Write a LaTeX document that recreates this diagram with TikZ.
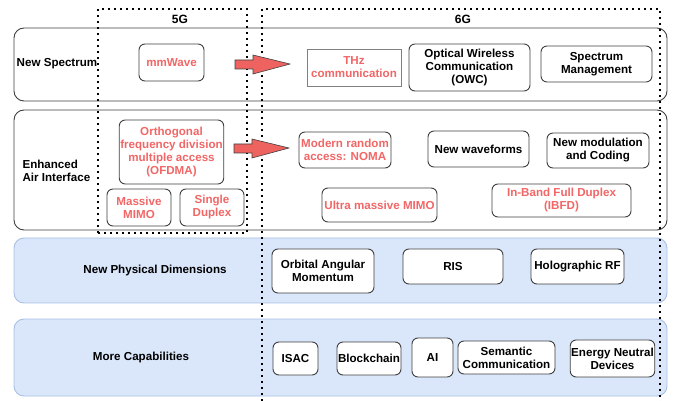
\documentclass[tikz,border=0pt]{standalone}
\usepackage{fontspec}
\setmainfont{Liberation Sans}
\definecolor{redtxt}{HTML}{F26666}
\definecolor{arrowred}{HTML}{EE6360}
\definecolor{boxgray}{HTML}{404040}
\definecolor{bluefill}{HTML}{DAE6FA}
\definecolor{blueline}{HTML}{A9C0E6}
\tikzset{
  row/.style={draw=boxgray, line width=0.9pt, rounded corners=10pt, fill=white},
  bluerow/.style={draw=blueline, line width=0.9pt, rounded corners=10pt, fill=bluefill},
  item/.style={draw=boxgray, line width=0.9pt, rounded corners=6pt, fill=white, align=center, inner sep=1pt},
  reditem/.style={item, text=redtxt},
  dotbox/.style={line width=1.7pt, dash pattern=on 1.7pt off 4.3pt, black},
  lbl/.style={align=center},
  bigarrow/.style={draw=boxgray, line width=0.6pt, fill=arrowred, line join=miter},
}
\newcommand{\blockarrow}[1]{%
  \draw[bigarrow] ($(#1)+(0,-4)$) -- ++(18,0) -- ++(0,-5) -- ++(37,9) -- ++(-37,10) -- ++(0,-5) -- ++(-18,0) -- cycle;}
\usetikzlibrary{calc}
\begin{document}
\begin{tikzpicture}[x=1pt, y=-1pt, every node/.append style={font=\fontsize{11.6}{13}\selectfont\bfseries}]
\useasboundingbox (0,0) rectangle (673,401);
% rows
\draw[row] (14,28) rectangle (667,101);
\draw[row] (14,110) rectangle (667,230);
\draw[bluerow] (14,238) rectangle (667,303);
\draw[bluerow] (14,319) rectangle (667,396);
% row labels
\node[lbl] (lspec) at (57,64) {New Spectrum};
\node[lbl, anchor=west, align=left] (lair) at (19,170.5) {Enhanced\\Air Interface};
\node[lbl] (lphy) at (155,271) {New Physical Dimensions};
\node[lbl] (lcap) at (141,358) {More Capabilities};
% dotted generation boxes
\draw[dotbox] (98,233) -- (98,9) -- (247,9) -- (247,233) -- cycle;
\draw[dotbox] (262,401) -- (262,9) -- (660,9) -- (660,401);
\node[lbl, font=\fontsize{12}{13}\selectfont\bfseries] (g5) at (180,19) {5G};
\node[lbl, font=\fontsize{12}{13}\selectfont\bfseries] (g6) at (463,19) {6G};
% row 1
\node[reditem, minimum width=65pt, minimum height=37pt] (mmw) at (171.5,62.5) {mmWave};
\node[reditem, rounded corners=0pt, draw=gray, minimum width=94pt, minimum height=37pt] (thz) at (354,67.5) {THz\\communication};
\node[item, minimum width=121pt, minimum height=47pt] (owc) at (469.5,67.5) {Optical Wireless\\Communication\\(OWC)};
\node[item, minimum width=111pt, minimum height=36pt] (sm) at (596.5,64) {Spectrum\\Management};
\coordinate (a1) at (235,64);
\blockarrow{a1}
% row 2
\node[reditem, minimum width=101pt, minimum height=64pt] (ofdma) at (171.5,152) {Orthogonal\\frequency division\\multiple access\\(OFDMA)};
\node[reditem, minimum width=64pt, minimum height=37pt] (mm) at (139,207.5) {Massive\\MIMO};
\node[reditem, minimum width=64pt, minimum height=37pt] (sd) at (212,207.5) {Single\\Duplex};
\coordinate (a2) at (234,148);
\blockarrow{a2}
\node[reditem, minimum width=92pt, minimum height=36pt] (noma) at (345,150) {Modern random\\access: NOMA};
\node[item, minimum width=101pt, minimum height=36pt] (nw) at (478.5,149) {New waveforms};
\node[item, minimum width=102pt, minimum height=35pt] (nmc) at (598,150.5) {New modulation\\and Coding};
\node[reditem, minimum width=115pt, minimum height=34pt] (umm) at (379.5,205) {Ultra massive MIMO};
\node[reditem, minimum width=139pt, minimum height=33pt] (ibfd) at (561.5,200.5) {In-Band Full Duplex\\(IBFD)};
% row 3
\node[item, minimum width=102pt, minimum height=44pt] (oam) at (323,271) {Orbital Angular\\Momentum};
\node[item, minimum width=100pt, minimum height=35pt] (ris) at (453,266.5) {RIS};
\node[item, minimum width=93pt, minimum height=35pt] (hrf) at (577.5,266.5) {Holographic RF};
% row 4
\node[item, minimum width=45pt, minimum height=33pt] (isac) at (295.5,358.5) {ISAC};
\node[item, minimum width=64pt, minimum height=33pt] (bc) at (369,358.5) {Blockchain};
\node[item, minimum width=41pt, minimum height=39pt] (ai) at (432.5,357.5) {AI};
\node[item, minimum width=97pt, minimum height=33pt] (sc) at (506.5,357.5) {Semantic\\Communication};
\node[item, minimum width=83pt, minimum height=37pt] (end) at (612.5,358.5) {Energy Neutral\\Devices};
\end{tikzpicture}
\end{document}
